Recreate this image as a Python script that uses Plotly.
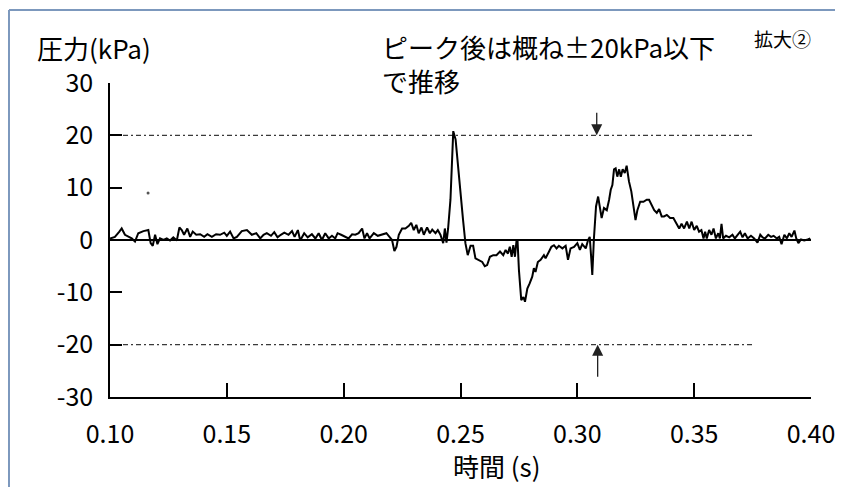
import plotly.graph_objects as go

# time (s) and pressure (kPa)
t1 = [0.1000, 0.1021, 0.1040, 0.1050, 0.1064, 0.1079, 0.1093, 0.1107, 0.1121, 0.1143,
      0.1164, 0.1174, 0.1183, 0.1193, 0.1203, 0.1214, 0.1229, 0.1243, 0.1257, 0.1271,
      0.1286, 0.1297, 0.1307, 0.1317, 0.1331, 0.1343, 0.1354, 0.1369, 0.1386, 0.1403,
      0.1417, 0.1436, 0.1454, 0.1471, 0.1489, 0.1500, 0.1514, 0.1529, 0.1543, 0.1564,
      0.1586, 0.1607, 0.1626, 0.1643, 0.1657, 0.1671, 0.1689, 0.1703, 0.1717, 0.1731,
      0.1746, 0.1764, 0.1779, 0.1790, 0.1804, 0.1814, 0.1831, 0.1846, 0.1864, 0.1879,
      0.1893, 0.1907, 0.1921, 0.1936, 0.1950, 0.1964, 0.1974, 0.1989]
p1 = [0.3, 0.6, 1.6, 2.2, 1.0, 0.6, 0.3, -0.3, 1.3, 1.7,
      1.9, -0.6, -1.1, 1.0, -0.8, 0.3, 0.0, 0.3, -0.1, 0.5,
      -0.1, 2.4, 1.9, 1.0, 2.2, 0.6, 1.6, 1.0, 1.1, 0.6,
      1.1, 0.6, 1.1, 1.0, 1.4, 0.8, 1.6, 0.3, 0.6, 1.7,
      1.9, 1.0, 1.3, 0.3, 1.0, 1.3, 0.8, 1.5, 0.5, 1.0,
      1.4, 1.0, 1.7, 0.6, 1.9, -0.1, 1.3, 0.5, 1.1, 0.3,
      1.3, 0.0, 1.3, 0.3, 0.8, 0.3, 1.3, 1.0]

t2 = [0.2007, 0.2021, 0.2036, 0.2050, 0.2064, 0.2079, 0.2089, 0.2100, 0.2111, 0.2129,
      0.2146, 0.2164, 0.2183, 0.2196, 0.2207, 0.2217, 0.2226, 0.2236, 0.2250, 0.2264,
      0.2279, 0.2289, 0.2300, 0.2311, 0.2321, 0.2333, 0.2343, 0.2357, 0.2369, 0.2379,
      0.2393, 0.2403, 0.2414, 0.2426, 0.2433, 0.2440, 0.2447, 0.2457, 0.2469, 0.2479,
      0.2489, 0.2500, 0.2511, 0.2521, 0.2531, 0.2543, 0.2554, 0.2564, 0.2579, 0.2593,
      0.2604, 0.2614, 0.2626, 0.2640, 0.2654, 0.2669, 0.2683, 0.2693, 0.2703, 0.2711,
      0.2719, 0.2726, 0.2733, 0.2740, 0.2744, 0.2750, 0.2760, 0.2769, 0.2776, 0.2786,
      0.2796, 0.2807, 0.2814, 0.2821, 0.2831, 0.2843]
p2 = [0.6, 0.3, 1.1, 1.0, 1.3, 2.2, 0.3, 1.3, 0.3, 1.3,
      0.8, 1.1, 1.3, 0.6, 0.0, -2.1, -1.3, 1.0, 2.2, 2.2,
      2.7, 3.3, 1.9, 2.9, 1.3, 2.4, 1.0, 2.4, 1.3, 2.0,
      1.3, 1.9, 1.0, -0.6, 2.2, -0.5, 2.2, 7.7, 20.8, 19.2,
      14.0, 8.3, 3.8, -0.6, -2.9, -1.1, -1.1, -3.5, -3.8, -4.2,
      -5.0, -4.8, -3.2, -2.9, -2.9, -2.2, -2.9, -1.9, -2.6, -1.3,
      -3.2, -1.0, -3.2, 0.0, 0.0, -5.7, -11.5, -10.9, -11.8, -9.3,
      -8.3, -7.0, -5.4, -6.1, -4.2, -3.8]

t3 = [0.2857, 0.2864, 0.2879, 0.2889, 0.2900, 0.2911, 0.2921, 0.2936, 0.2950, 0.2960,
      0.2971, 0.2986, 0.3000, 0.3011, 0.3021, 0.3036, 0.3046, 0.3053, 0.3060, 0.3064,
      0.3071, 0.3080, 0.3089, 0.3097, 0.3104, 0.3114, 0.3126, 0.3136, 0.3143, 0.3150,
      0.3157, 0.3164, 0.3171, 0.3179, 0.3186, 0.3194, 0.3203, 0.3211, 0.3221, 0.3231,
      0.3240, 0.3249, 0.3257, 0.3269, 0.3283, 0.3297, 0.3307, 0.3317, 0.3329, 0.3340,
      0.3350, 0.3361, 0.3371, 0.3383, 0.3397, 0.3411, 0.3426, 0.3436, 0.3446, 0.3457,
      0.3469, 0.3479, 0.3489, 0.3500, 0.3511, 0.3521, 0.3531, 0.3540, 0.3547, 0.3554,
      0.3564, 0.3574, 0.3583, 0.3593, 0.3603, 0.3610, 0.3617, 0.3624, 0.3636, 0.3650,
      0.3664, 0.3674, 0.3686, 0.3697, 0.3707, 0.3717, 0.3729, 0.3743, 0.3757, 0.3771,
      0.3783, 0.3793, 0.3803, 0.3817, 0.3829, 0.3840, 0.3854, 0.3864, 0.3874, 0.3886,
      0.3897, 0.3907, 0.3917, 0.3929, 0.3937, 0.3946, 0.3957, 0.3971, 0.3986, 0.3997]
p3 = [-2.9, -3.5, -2.2, -1.3, -1.0, -1.6, -1.1, -1.6, -1.1, -3.8,
      -1.6, -1.3, -0.6, -1.9, -0.8, -1.6, 0.0, 0.6, -3.8, -6.7,
      0.3, 6.4, 8.3, 6.4, 4.2, 6.1, 5.7, 7.7, 9.6, 10.5,
      13.5, 13.7, 12.1, 13.5, 12.1, 13.5, 12.8, 14.2, 11.2, 9.3,
      6.4, 3.8, 5.7, 7.3, 7.3, 7.7, 7.7, 6.7, 5.7, 5.2,
      5.9, 4.5, 4.5, 4.8, 4.2, 4.2, 2.9, 2.2, 3.1, 2.2,
      3.5, 2.2, 3.5, 1.9, 2.7, 1.6, 1.9, 0.3, 1.6, 0.3,
      1.9, 1.0, 2.2, 0.3, 1.3, 0.3, 3.1, 0.3, 0.8, 0.5,
      1.0, 0.3, 1.0, 1.6, 0.5, 1.3, 0.3, 0.8, 0.3, -0.5,
      1.0, 0.5, 0.3, 1.0, 0.6, 0.8, 0.3, 0.6, -0.8, 1.0,
      0.3, 1.3, 0.6, 1.8, 0.3, -0.6, 0.1, -0.1, 0.1, 0.3]

time_s = t1 + t2 + t3
pressure_kpa = p1 + p2 + p3

limit_levels = [20, -20]
limit_t_range = [0.10, 0.375]
arrow_t = [0.3083, 0.3087]
arrow_tail = [24.6, -26.4]

stray_t = [0.1163]
stray_p = [9.0]

x_ticks = [0.10, 0.15, 0.20, 0.25, 0.30, 0.35, 0.40]
x_ticklabels = ["0.10", "0.15", "0.20", "0.25", "0.30", "0.35", "0.40"]
y_ticks = [30, 20, 10, 0, -10, -20, -30]
y_ticklabels = ["30", "20", "10", "0", "-10", "-20", "-30"]

NUM_FONT = "Noto Sans CJK JP, sans-serif"
JP_FONT = "Noto Sans CJK JP, sans-serif"

fig = go.Figure()

for lvl in limit_levels:
    fig.add_trace(go.Scatter(
        x=limit_t_range, y=[lvl, lvl], mode="lines",
        line=dict(color="#3a3a3a", width=1.2, dash="5px,3px,2px,3px"),
        hoverinfo="skip", showlegend=False))

fig.add_trace(go.Scatter(
    x=time_s, y=pressure_kpa, mode="lines",
    line=dict(color="black", width=2), showlegend=False))

fig.add_trace(go.Scatter(
    x=stray_t, y=stray_p, mode="markers",
    marker=dict(color="#555555", size=3), showlegend=False))

for at, tail, lvl in zip(arrow_t, arrow_tail, limit_levels):
    fig.add_annotation(
        x=at, y=lvl, ax=at, ay=tail, xref="x", yref="y", axref="x", ayref="y",
        text="", showarrow=True, arrowhead=2, arrowsize=1.7, arrowwidth=1.3,
        arrowcolor="#222222")

fig.update_xaxes(
    range=[0.1, 0.4], tickvals=x_ticks, ticktext=x_ticklabels,
    showline=True, linecolor="black", linewidth=1.5,
    ticks="inside", ticklen=14, tickwidth=1.5, tickcolor="black",
    showgrid=False, zeroline=False, ticklabelstandoff=14, automargin=False,
    tickfont=dict(family=NUM_FONT, size=25, color="black"))
fig.update_yaxes(
    range=[-30, 30], tickvals=y_ticks, ticktext=y_ticklabels,
    showline=True, linecolor="black", linewidth=1.5,
    ticks="inside", ticklen=12, tickwidth=1.5, tickcolor="black",
    showgrid=False, zeroline=True, zerolinecolor="black", zerolinewidth=1.5,
    ticklabelstandoff=10, automargin=False,
    tickfont=dict(family=NUM_FONT, size=25, color="black"))

fig.add_annotation(x=-0.107, y=1.1146, xref="paper", yref="paper",
                   text="圧力(kPa)", showarrow=False, xanchor="left", yanchor="middle",
                   font=dict(family=JP_FONT, size=26, color="black"))
fig.add_annotation(x=0.385, y=1.0621, xref="paper", yref="paper",
                   text="ピーク後は概ね±20kPa以下<br>で推移", showarrow=False,
                   xanchor="left", yanchor="middle", align="left",
                   font=dict(family=JP_FONT, size=26, color="black"))
fig.add_annotation(x=0.9158, y=1.1433, xref="paper", yref="paper",
                   text="拡大②", showarrow=False, xanchor="left", yanchor="middle",
                   font=dict(family=JP_FONT, size=19, color="black"))
fig.add_annotation(x=0.552, y=-0.2166, xref="paper", yref="paper",
                   text="時間 (s)", showarrow=False, xanchor="center", yanchor="middle",
                   font=dict(family=JP_FONT, size=26, color="black"))

# outer frame (light blue), top and left edges
fig.add_shape(type="line", xref="paper", yref="paper",
              x0=-0.1441, x1=1.1, y0=1.2325, y1=1.2325,
              line=dict(color="#7c98bd", width=2))
fig.add_shape(type="line", xref="paper", yref="paper",
              x0=-0.1441, x1=-0.1441, y0=1.2325, y1=-0.30,
              line=dict(color="#7c98bd", width=2))

# the page body has an 8px margin: figure is offset so the plot area lands
# at the reference position
fig.update_layout(
    width=835, height=479,
    margin=dict(l=102, r=32, t=75, b=90, autoexpand=False),
    paper_bgcolor="white", plot_bgcolor="white",
    showlegend=False)

fig.write_html("out.html")
